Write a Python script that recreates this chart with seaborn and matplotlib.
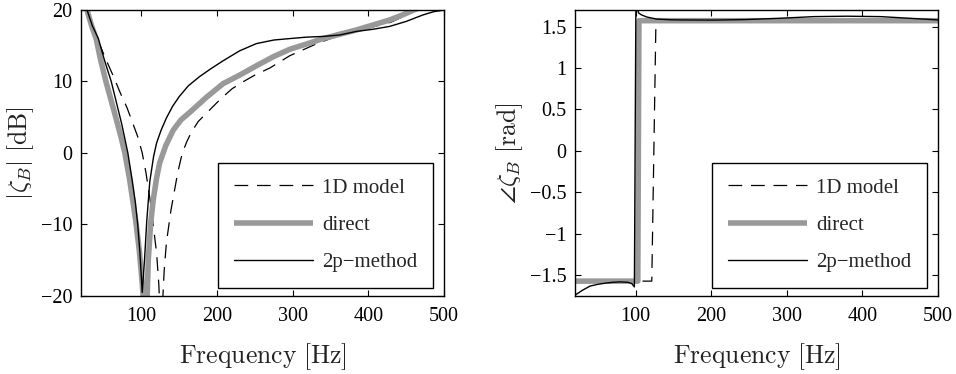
import matplotlib
matplotlib.use("Agg")
import matplotlib.pyplot as plt
import seaborn as sns

# --- valores ---
# magnitude [dB]
f_1d = [20, 28, 35, 45, 55, 63, 72, 81, 88, 95, 101, 106, 112, 116, 120, 123, 125,
        126.5, 130, 133, 139, 148, 154, 160, 166, 175, 190, 205, 220, 235, 250, 270,
        296, 330, 365, 405, 430, 465, 500]
mag_1d = [24, 20, 17.6, 15.1, 12.6, 10.7, 8.4, 6.3, 4.3, 2.3, 0, -2.8, -7, -10.5, -14, -18.5, -24,
          -24, -16.5, -12.5, -8, -2.7, 0, 1.6, 2.9, 4.4, 6.0, 7.6, 9.0, 10.0, 10.9, 11.9,
          13.6, 15.2, 16.6, 17.6, 18.3, 20.0, 21.0]

f_dir = [20, 28, 34, 40, 46, 53, 60, 67, 73, 78, 84, 89, 93, 97, 100, 103, 105,
         107, 109, 112, 115.5, 120, 124, 132, 142, 152, 164, 186, 208, 230, 252, 275,
         296, 320, 340, 362, 384, 406, 428, 445, 460, 480, 500]
mag_dir = [24, 20, 17.8, 16, 13, 10, 7.3, 4.6, 2.2, 0, -3.5, -7, -10, -13.5, -17, -21, -26,
           -22, -15, -10, -6.6, -3.5, -1.4, 1.0, 3.2, 4.6, 5.7, 7.8, 9.7, 10.9, 12.2, 13.5,
           14.5, 15.3, 16, 16.6, 17.2, 17.9, 18.6, 19.3, 20, 20.8, 21.5]

f_2p = [20, 28, 35, 43, 51, 60, 67, 74, 82, 88, 92, 95, 98, 101, 104, 107, 111, 116, 120,
        126, 133, 141, 150, 162, 177, 192, 208, 230, 252, 275, 296, 318, 340, 362, 384,
        406, 428, 450, 472, 486, 500]
mag_2p = [24, 20, 17.8, 16, 13, 10, 7, 4, 0, -4, -7, -10, -14, -19.5, -15, -9.5, -4, -0.5, 1.4,
          3.2, 4.9, 6.5, 7.9, 9.4, 10.7, 11.8, 12.9, 14.3, 15.3, 15.8, 16.0, 16.2, 16.3, 16.5,
          17.0, 17.3, 17.7, 18.4, 19.3, 19.75, 20]

# fase [rad]
f_1d_ph = [20, 121.5, 127, 500]
ph_1d = [-1.5708, -1.5708, 1.5708, 1.5708]

f_dir_ph = [20, 103, 104.5, 500]
ph_dir = [-1.5708, -1.5708, 1.5708, 1.5708]

f_2p_ph = [20, 30, 40, 50, 60, 70, 80, 90, 95, 98.5, 100.5, 104, 108, 115, 128, 146,
           160, 203, 247, 291, 336, 380, 424, 468, 500]
ph_2p = [-1.74, -1.68, -1.63, -1.61, -1.595, -1.585, -1.58, -1.585, -1.60, -1.64, 1.8, 1.665,
         1.64, 1.615, 1.59, 1.582, 1.58, 1.578, 1.585, 1.60, 1.62, 1.625, 1.62, 1.597, 1.58]

x_ticks = [100, 200, 300, 400, 500]
mag_ticks = [-20, -10, 0, 10, 20]
ph_ticks = [-1.5, -1, -0.5, 0, 0.5, 1, 1.5]
ph_ticklabels = ["\u22121.5", "\u22121", "\u22120.5", "0", "0.5", "1", "1.5"]
legend_labels = ["1D model", "direct", "2p\u2212method"]

# --- estilo ---
sns.set_theme(style="ticks")
plt.rcParams["font.family"] = ["Liberation Serif", "DejaVu Serif"]
plt.rcParams["mathtext.fontset"] = "cm"

fig, (ax1, ax2) = plt.subplots(1, 2, figsize=(9.56, 3.74), dpi=100)
fig.subplots_adjust(left=0.0847, right=0.9812, top=0.9733, bottom=0.2086, wspace=0.361)

gray = "#999999"


def desenha(ax, f1, y1, f2, y2, f3, y3):
    sns.lineplot(x=f1, y=y1, ax=ax, color="black", lw=0.9, linestyle=(0, (11, 7)),
                 sort=False, estimator=None, label=legend_labels[0])
    sns.lineplot(x=f2, y=y2, ax=ax, color=gray, lw=4, sort=False, estimator=None,
                 solid_capstyle="butt", label=legend_labels[1])
    sns.lineplot(x=f3, y=y3, ax=ax, color="black", lw=1.0, sort=False, estimator=None,
                 label=legend_labels[2])
    ax.set_xlim(20, 500)
    ax.set_xticks(x_ticks)
    ax.tick_params(direction="in", top=True, right=True, length=4, width=0.8,
                   labelsize=14.5, colors="black")
    ax.tick_params(axis="x", pad=8)
    ax.tick_params(axis="y", pad=6)
    for s in ax.spines.values():
        s.set_linewidth(1.0)
        s.set_color("black")
    ax.set_xlabel(r"$\mathrm{Frequency\ [Hz]}$", fontsize=18.5, color="#222222", labelpad=11)
    leg = ax.legend(loc="lower right", bbox_to_anchor=(0.97, 0.028), borderaxespad=0,
                    fontsize=15, handlelength=3.8, handletextpad=0.45, labelspacing=0.85,
                    borderpad=0.75, fancybox=False, framealpha=1, edgecolor="black")
    leg.get_frame().set_linewidth(1.0)


desenha(ax1, f_1d, mag_1d, f_dir, mag_dir, f_2p, mag_2p)
ax1.set_ylim(-20, 20)
ax1.set_yticks(mag_ticks)
ax1.set_ylabel(r"$|\zeta_B|\ \mathrm{[dB]}$", fontsize=18.5, color="#222222", labelpad=4)

desenha(ax2, f_1d_ph, ph_1d, f_dir_ph, ph_dir, f_2p_ph, ph_2p)
ax2.set_ylim(-1.75, 1.7)
ax2.set_yticks(ph_ticks)
ax2.set_yticklabels(ph_ticklabels)
ax2.set_ylabel(r"$\angle\zeta_B\ \mathrm{[rad]}$", fontsize=18.5, color="#222222", labelpad=4)

plt.savefig("out.png", dpi=100)
